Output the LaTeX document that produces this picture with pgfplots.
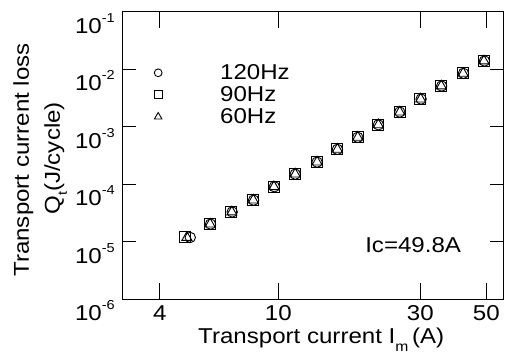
\documentclass[border=0pt]{standalone}
\usepackage{pgfplots}
\pgfplotsset{compat=1.18}
\usepackage{fontspec}
\setmainfont{Liberation Sans}[FakeStretch=1.12]
\newcommand{\sz}{\fontsize{21.5}{24}\selectfont}
\newcommand{\ex}[1]{10\raisebox{11pt}{\fontsize{13}{13}\selectfont -#1}}
\begin{document}
\begin{tikzpicture}
\begin{axis}[
  at={(0pt,0pt)}, anchor=south west,
  scale only axis, width=380.5pt, height=287.6pt,
  xmode=log, ymode=log,
  xmin=3, xmax=57, ymin=1e-6, ymax=1e-1,
  xminorticks=false, yminorticks=false,
  clip=false,
  axis line style={black, line width=0.9pt},
  tick style={black, line width=0.9pt},
  major tick length=13pt,
  xtick={10}, xticklabels={10},
  xtick style={/pgfplots/major tick length=16pt},
  extra x ticks={4,30,50}, extra x tick labels={4,30,50},
  extra x tick style={major tick length=0pt},
  ytick={1e-6,1e-5,1e-4,1e-3,1e-2,1e-1},
  yticklabels={\ex{6},\ex{5},\ex{4},\ex{3},\ex{2},\ex{1}},
  yticklabel style={font=\sz, anchor=base east, inner sep=0pt, xshift=-7.7pt, yshift=-21.5pt},
  xticklabel style={font=\sz, anchor=base, inner sep=0pt, yshift=-20.7pt},
  legend cell align=left,
  legend image code/.code={\path[draw=none, fill=none] (-5pt,-5pt) rectangle (5pt,5pt); \draw[#1, mark options={scale=0.75}] plot coordinates {(0pt,0pt)};},
  legend style={draw=none, fill=none, at={(axis description cs:0.0796,0.817)}, anchor=north west,
    font=\sz, inner sep=0pt, row sep=5.5pt, column sep=57pt, nodes={inner sep=0pt}},
]
\addplot[only marks, mark=o, mark size=5.2pt, line width=0.9pt, black] coordinates {
(5.06,1.19e-5) (5.92,2.03e-5) (7.00,3.30e-5) (8.26,5.30e-5) (9.70,9.05e-5)
(11.4,1.50e-4) (13.5,2.43e-4) (15.8,4.05e-4) (18.5,6.55e-4) (21.7,1.08e-3)
(25.6,1.80e-3) (30.2,3.03e-3) (35.4,5.10e-3) (41.9,8.49e-3) (49.3,1.39e-2)};
\addlegendentry{120Hz}
\addplot[only marks, mark=square, mark size=5.5pt, line width=0.9pt, black] coordinates {
(4.86,1.19e-5) (5.88,2.03e-5) (6.96,3.29e-5) (8.22,5.31e-5) (9.65,9.05e-5)
(11.4,1.50e-4) (13.5,2.43e-4) (15.8,4.05e-4) (18.5,6.55e-4) (21.7,1.08e-3)
(25.6,1.80e-3) (30.0,3.03e-3) (35.2,5.10e-3) (41.7,8.49e-3) (49.0,1.39e-2)};
\addlegendentry{90Hz}
\addplot[only marks, mark=triangle, mark size=5.8pt, line width=0.9pt, black] coordinates {
(4.93,1.19e-5) (5.90,2.03e-5) (6.98,3.29e-5) (8.24,5.31e-5) (9.67,9.05e-5)
(11.4,1.50e-4) (13.5,2.43e-4) (15.8,4.05e-4) (18.5,6.55e-4) (21.7,1.08e-3)
(25.6,1.80e-3) (30.1,3.03e-3) (35.3,5.10e-3) (41.8,8.49e-3) (49.1,1.39e-2)};
\addlegendentry{60Hz}
\node[anchor=base west, font=\sz, inner sep=0pt] at (axis description cs:0.637,0.163) {Ic=49.8A};
\node[rotate=90, anchor=base, font=\sz, inner sep=0pt] at (axis description cs:-0.2463,0.4844) {Transport current loss};
\node[rotate=90, anchor=base, font=\sz, inner sep=0pt] at (axis description cs:-0.1648,0.49) {Q\raisebox{-7pt}{\fontsize{13}{13}\selectfont t}(J/cycle)};
\node[anchor=base west, font=\sz, inner sep=0pt] at (axis description cs:0.198,-0.1554) {Transport current I\raisebox{-7pt}{\fontsize{14}{14}\selectfont m}\,(A)};
\end{axis}
\pgfresetboundingbox
\path[use as bounding box] (-122.7pt,-54.7pt) rectangle (383.3pt,299.3pt);
\end{tikzpicture}
\end{document}
